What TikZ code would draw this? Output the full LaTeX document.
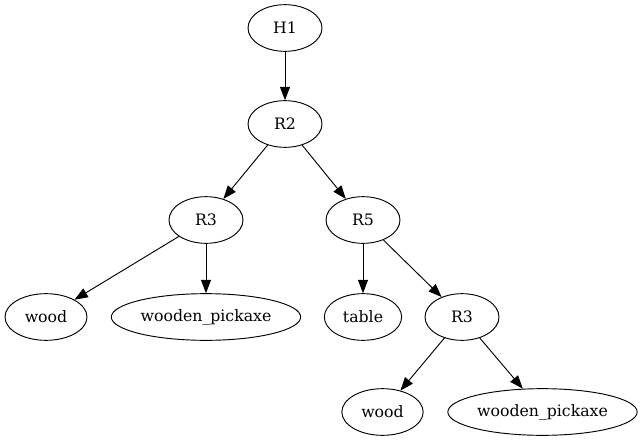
\documentclass[tikz,border=0pt]{standalone}
\usepackage{fontspec}
\setmainfont{DejaVu Serif}
\usetikzlibrary{arrows.meta, shapes.geometric}
\tikzset{
  every picture/.style={line width=0.7pt},
  state/.style={draw, ellipse, inner sep=0pt, minimum width=55.5pt, minimum height=35pt, font=\fontsize{11.8}{13}\selectfont},
  leaf/.style={state, minimum width=#1},
  edge/.style={-{Triangle[length=10pt, width=7.5pt]}},
}

\begin{document}
\begin{tikzpicture}[x=0.75pt, y=-0.75pt]
  \useasboundingbox (0,0) rectangle (643,443);
  % upper part of the tree
  \node[state] (h1) at (285,28) {H1};
  \node[state] (r2) at (285,124) {R2};
  \node[state] (r3a) at (206,220) {R3};
  \node[state] (r5) at (363,220) {R5};
  % leaves under the first R3
  \node[leaf=61.5pt] (wooda) at (46,317) {wood};
  \node[leaf=142pt] (pickaxea) at (206,317) {wooden\_pickaxe};
  % under R5
  \node[leaf=58pt] (table) at (363,317) {table};
  \node[state] (r3b) at (462,317) {R3};
  \node[leaf=61pt] (woodb) at (382.5,412) {wood};
  \node[leaf=142pt] (pickaxeb) at (542.5,412) {wooden\_pickaxe};
  \draw[edge] (h1) -- (r2);
  \draw[edge] (r2) -- (r3a);
  \draw[edge] (r2) -- (r5);
  \draw[edge] (r3a) -- (wooda);
  \draw[edge] (r3a) -- (pickaxea);
  \draw[edge] (r5) -- (table);
  \draw[edge] (r5) -- (r3b);
  \draw[edge] (r3b) -- (woodb);
  \draw[edge] (r3b) -- (pickaxeb);
\end{tikzpicture}
\end{document}
